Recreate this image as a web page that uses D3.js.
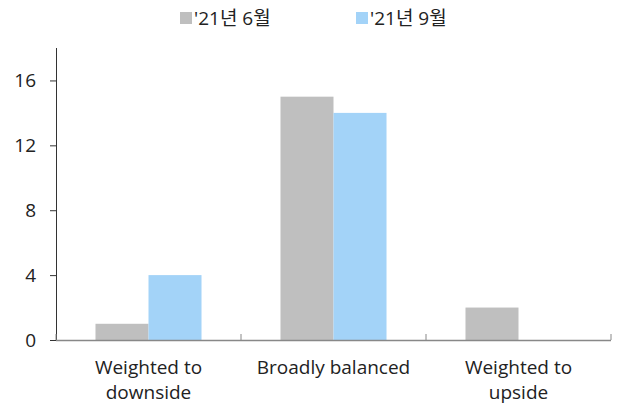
<!DOCTYPE html>
<html><head><meta charset="utf-8">
<script src="https://cdn.jsdelivr.net/npm/d3@7"></script>
<style>body{margin:0;background:#fff}svg{display:block}text{font-family:"Open Sans","Noto Sans CJK KR",sans-serif}</style>
</head><body>
<script>
const categories = [["Weighted to","downside"],["Broadly balanced"],["Weighted to","upside"]];
const seriesNames = ["'21년 6월","'21년 9월"];
const june = [1, 15, 2];
const sept = [4, 14, 0];
const yTicks = [0, 4, 8, 12, 16];
const colors = ["#bfbfbf", "#a3d3f8"];

const W = 619, H = 408;
const svg = d3.select("body").append("svg").attr("width", W).attr("height", H);
const x0 = d3.scaleBand().domain(d3.range(categories.length)).range([56, 611]).paddingInner(0).paddingOuter(0);
const x1 = d3.scaleBand().domain([0,1]).range([0, x0.bandwidth()]).paddingInner(0).paddingOuter(0.745);
const y = d3.scaleLinear().domain([0, 18]).range([340, 48]);

const series = [june, sept];
series.forEach((vals, s) => {
  svg.append("g").selectAll("rect").data(vals).join("rect")
    .attr("x", (d,i) => x0(i) + x1(s))
    .attr("width", x1.bandwidth())
    .attr("y", d => y(d))
    .attr("height", d => y(0) - y(d))
    .attr("fill", colors[s]);
});

// y axis
const ya = svg.append("g").attr("transform", "translate(56,0)")
  .call(d3.axisLeft(y).tickValues(yTicks).tickSize(6).tickPadding(14));
ya.select(".domain").remove();
ya.selectAll(".tick line").attr("stroke", "#333");
ya.selectAll(".tick text").attr("font-size", 19).attr("fill", "#222");
svg.append("line").attr("x1",56.5).attr("x2",56.5).attr("y1",y(18)).attr("y2",y(0)).attr("stroke","#333");

// x axis
svg.append("line").attr("x1",56).attr("x2",611).attr("y1",340.5).attr("y2",340.5).attr("stroke","#888").attr("stroke-width",1.5);
const bounds = d3.range(categories.length + 1).map(i => i < categories.length ? x0(i) : x0.range()[1]);
svg.append("g").selectAll("line").data(bounds).join("line")
  .attr("x1", d => d).attr("x2", d => d).attr("y1", 334).attr("y2", 340).attr("stroke", "#888");

categories.forEach((lines, i) => {
  const t = svg.append("text").attr("text-anchor","middle").attr("font-size",19).attr("fill","#222");
  lines.forEach((l, j) => t.append("tspan").attr("x", x0(i) + x0.bandwidth()/2).attr("y", 374 + j*25).text(l));
});

// legend
const legX = [180, 356];
seriesNames.forEach((n, i) => {
  svg.append("rect").attr("x", legX[i]).attr("y", 12).attr("width", 12).attr("height", 12).attr("fill", colors[i]);
  svg.append("text").attr("x", legX[i] + 14).attr("y", 25).attr("font-size", 19).attr("fill", "#222").text(n);
});
</script>
</body></html>
